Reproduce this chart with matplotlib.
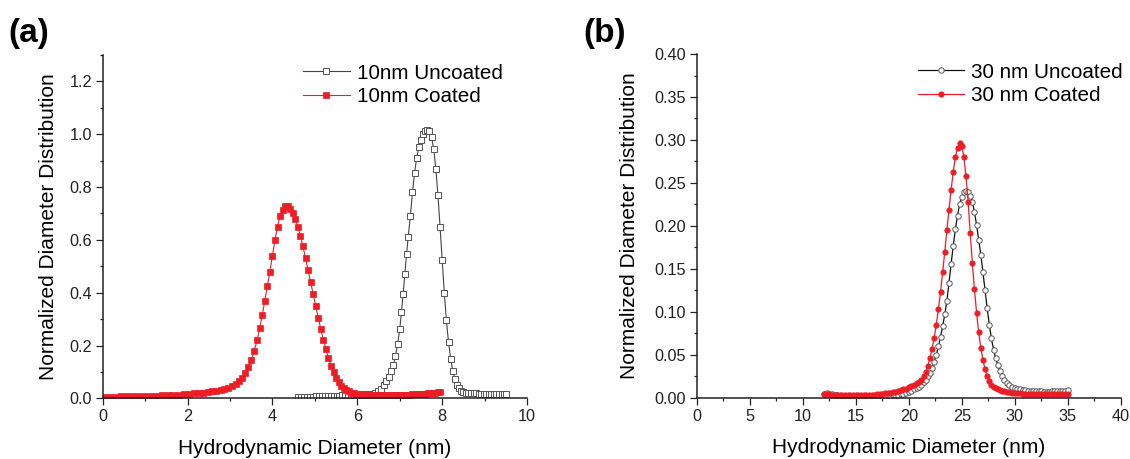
import matplotlib
matplotlib.use("Agg")
import matplotlib.pyplot as plt
from matplotlib.ticker import MultipleLocator, FormatStrFormatter

plt.rcParams["font.family"] = ["Liberation Sans", "DejaVu Sans"]

# panel (a): 10 nm particles
coated10_x = [
    0.00, 0.14, 0.28, 0.42, 0.56, 0.70, 0.84, 0.98, 1.12, 1.26,
    1.40, 1.53, 1.66, 1.79, 1.91, 2.03, 2.15, 2.26, 2.37, 2.48,
    2.58, 2.68, 2.78, 2.87, 2.96, 3.05, 3.13, 3.21, 3.29, 3.36,
    3.43, 3.50, 3.57, 3.64, 3.70, 3.76, 3.82, 3.88, 3.94, 4.00,
    4.06, 4.12, 4.18, 4.24, 4.30, 4.36, 4.42, 4.48, 4.54, 4.60,
    4.66, 4.72, 4.78, 4.84, 4.90, 4.96, 5.02, 5.08, 5.14, 5.20,
    5.26, 5.32, 5.38, 5.44, 5.50, 5.56, 5.62, 5.68, 5.74, 5.80,
    5.86, 5.92, 5.98, 6.04, 6.10, 6.16, 6.22, 6.28, 6.34, 6.40,
    6.46, 6.52, 6.58, 6.64, 6.70, 6.76, 6.82, 6.88, 6.94, 7.00,
    7.06, 7.12, 7.18, 7.24, 7.30, 7.36, 7.42, 7.48, 7.54, 7.60,
    7.66, 7.72, 7.78, 7.84, 7.90, 7.95,
]
coated10_y = [
    0.006, 0.006, 0.006, 0.007, 0.007, 0.007, 0.008, 0.008, 0.009, 0.010,
    0.011, 0.012, 0.013, 0.014, 0.016, 0.017, 0.019, 0.020, 0.022, 0.024,
    0.026, 0.029, 0.032, 0.036, 0.040, 0.046, 0.054, 0.064, 0.078, 0.096,
    0.117, 0.145, 0.180, 0.220, 0.265, 0.315, 0.370, 0.425, 0.480, 0.540,
    0.600, 0.650, 0.690, 0.715, 0.727, 0.727, 0.718, 0.700, 0.678, 0.650,
    0.615, 0.575, 0.530, 0.485, 0.440, 0.395, 0.350, 0.305, 0.262, 0.222,
    0.186, 0.153, 0.124, 0.099, 0.078, 0.061, 0.048, 0.038, 0.031, 0.026,
    0.022, 0.019, 0.017, 0.016, 0.015, 0.014, 0.014, 0.013, 0.013, 0.013,
    0.012, 0.012, 0.012, 0.012, 0.012, 0.012, 0.012, 0.012, 0.012, 0.013,
    0.013, 0.013, 0.014, 0.014, 0.015, 0.015, 0.016, 0.017, 0.017, 0.018,
    0.019, 0.020, 0.021, 0.022, 0.024, 0.025,
]
uncoated10_x = [
    4.60, 4.67, 4.74, 4.81, 4.88, 4.95, 5.02, 5.09, 5.16, 5.23,
    5.30, 5.37, 5.44, 5.51, 5.58, 5.65, 5.72, 5.79, 5.86, 5.93,
    6.00, 6.07, 6.14, 6.21, 6.28, 6.35, 6.42, 6.49, 6.56, 6.62,
    6.68, 6.74, 6.80, 6.85, 6.90, 6.95, 7.00, 7.04, 7.08, 7.12,
    7.16, 7.20, 7.25, 7.30, 7.35, 7.40, 7.45, 7.50, 7.55, 7.60,
    7.65, 7.70, 7.75, 7.80, 7.85, 7.90, 7.95, 8.00, 8.05, 8.10,
    8.15, 8.20, 8.25, 8.30, 8.35, 8.40, 8.45, 8.50, 8.56, 8.62,
    8.68, 8.74, 8.80, 8.86, 8.92, 8.98, 9.04, 9.10, 9.16, 9.22,
    9.28, 9.34, 9.40, 9.46, 9.51,
]
uncoated10_y = [
    0.004, 0.004, 0.005, 0.005, 0.006, 0.006, 0.007, 0.007, 0.008, 0.008,
    0.009, 0.009, 0.010, 0.010, 0.010, 0.011, 0.011, 0.011, 0.012, 0.012,
    0.013, 0.013, 0.014, 0.015, 0.016, 0.018, 0.022, 0.028, 0.037, 0.050,
    0.064, 0.082, 0.102, 0.128, 0.160, 0.205, 0.262, 0.326, 0.395, 0.470,
    0.545, 0.612, 0.690, 0.780, 0.855, 0.910, 0.950, 0.980, 1.000, 1.012,
    1.016, 1.012, 0.990, 0.945, 0.870, 0.770, 0.650, 0.525, 0.400, 0.295,
    0.212, 0.150, 0.105, 0.074, 0.052, 0.038, 0.029, 0.024, 0.021, 0.020,
    0.019, 0.019, 0.019, 0.018, 0.018, 0.018, 0.017, 0.017, 0.016, 0.016,
    0.015, 0.015, 0.015, 0.015, 0.016,
]

# panel (b): 30 nm particles
coated30_x = [
    12.00, 12.25, 12.50, 12.75, 13.00, 13.25, 13.50, 13.75, 14.00, 14.25,
    14.50, 14.75, 15.00, 15.25, 15.50, 15.75, 16.00, 16.25, 16.50, 16.75,
    17.00, 17.25, 17.50, 17.75, 18.00, 18.25, 18.50, 18.75, 19.00, 19.25,
    19.50, 19.75, 20.00, 20.25, 20.50, 20.75,
    21.00, 21.20, 21.40, 21.60, 21.80,
    22.00, 22.20, 22.40, 22.60, 22.80, 23.00, 23.20, 23.40, 23.60, 23.80,
    24.00, 24.20, 24.40, 24.60, 24.80, 25.00, 25.20, 25.40, 25.60, 25.80,
    26.00, 26.20, 26.40, 26.60, 26.80, 27.00, 27.20, 27.40, 27.60, 27.80,
    28.00, 28.20, 28.40, 28.60, 28.80, 29.00, 29.25, 29.50, 29.75, 30.00,
    30.25, 30.50, 30.75, 31.00, 31.25, 31.50, 31.75, 32.00, 32.25, 32.50,
    32.75, 33.00, 33.25, 33.50, 33.75, 34.00, 34.25, 34.50, 34.75, 35.00,
]
coated30_y = [
    0.0040, 0.0040, 0.0038, 0.0036, 0.0034, 0.0033, 0.0032, 0.0031, 0.0030, 0.0030,
    0.0030, 0.0030, 0.0030, 0.0030, 0.0030, 0.0031, 0.0032, 0.0033, 0.0035, 0.0037,
    0.0040, 0.0043, 0.0046, 0.0050, 0.0054, 0.0059, 0.0065, 0.0072, 0.0080, 0.0088,
    0.0097, 0.0107, 0.0120, 0.0133, 0.0148, 0.0166,
    0.018, 0.021, 0.025, 0.030, 0.037,
    0.046, 0.057, 0.070, 0.085, 0.103, 0.123, 0.146, 0.170, 0.195, 0.219,
    0.242, 0.263, 0.280, 0.291, 0.296, 0.293, 0.280, 0.258, 0.228, 0.192,
    0.157, 0.126, 0.099, 0.076, 0.058, 0.044, 0.033, 0.025, 0.019, 0.015,
    0.0125, 0.0110, 0.0097, 0.0088, 0.0080, 0.0074, 0.0068, 0.0063, 0.0059, 0.0056,
    0.0053, 0.0050, 0.0048, 0.0046, 0.0045, 0.0044, 0.0043, 0.0042, 0.0041, 0.0040,
    0.0040, 0.0040, 0.0040, 0.0040, 0.0040, 0.0040, 0.0040, 0.0040, 0.0040, 0.0042,
]
uncoated30_x = coated30_x
uncoated30_y = [
    0.0040, 0.0050, 0.0048, 0.0040, 0.0032, 0.0026, 0.0022, 0.0019, 0.0017, 0.0016,
    0.0015, 0.0014, 0.0014, 0.0014, 0.0014, 0.0014, 0.0014, 0.0014, 0.0015, 0.0015,
    0.0016, 0.0017, 0.0018, 0.0019, 0.0021, 0.0023, 0.0026, 0.0030, 0.0035, 0.0041,
    0.0048, 0.0057, 0.0068, 0.0081, 0.0096, 0.0113,
    0.013, 0.015, 0.018, 0.021, 0.025,
    0.029, 0.035, 0.042, 0.050, 0.060, 0.071, 0.083, 0.097, 0.113, 0.134,
    0.156, 0.177, 0.196, 0.212, 0.225, 0.234, 0.239, 0.241, 0.240, 0.235,
    0.228, 0.216, 0.201, 0.184, 0.166, 0.146, 0.125, 0.104, 0.085, 0.069,
    0.056, 0.046, 0.038, 0.031, 0.025, 0.021, 0.017, 0.0145, 0.0128, 0.0115,
    0.0105, 0.0097, 0.0091, 0.0086, 0.0082, 0.0079, 0.0077, 0.0075, 0.0074, 0.0073,
    0.0072, 0.0072, 0.0072, 0.0073, 0.0074, 0.0075, 0.0077, 0.0079, 0.0082, 0.0086,
]

RED = "#ee1c25"
GREY = "#555555"


def style_axes(ax, xmax, xmajor, xminor, ymax, ymajor, yminor, yfmt, ypad):
    ax.set_xlim(0, xmax)
    ax.set_ylim(0, ymax)
    ax.xaxis.set_major_locator(MultipleLocator(xmajor))
    ax.xaxis.set_minor_locator(MultipleLocator(xminor))
    ax.yaxis.set_major_locator(MultipleLocator(ymajor))
    ax.yaxis.set_minor_locator(MultipleLocator(yminor))
    ax.yaxis.set_major_formatter(FormatStrFormatter(yfmt))
    for side in ("top", "right"):
        ax.spines[side].set_visible(False)
    for side in ("left", "bottom"):
        ax.spines[side].set_linewidth(1.1)
        ax.spines[side].set_color("#222222")
    ax.tick_params(which="major", direction="out", length=4.8, width=0.9,
                   labelsize=11.7, pad=3, colors="#222222")
    ax.tick_params(which="minor", direction="out", length=2.4, width=0.9,
                   colors="#222222")
    ax.set_xlabel("Hydrodynamic Diameter (nm)", fontsize=15, labelpad=10.5)
    ax.set_ylabel("Normalized Diameter Distribution", fontsize=15, labelpad=ypad)


fig = plt.figure(figsize=(11.3, 4.59), dpi=100)
ax_a = fig.add_axes([0.0909, 0.1322, 0.3755, 0.7479])
ax_b = fig.add_axes([0.6166, 0.1335, 0.3752, 0.7488])

legend_kw = dict(loc="upper left", frameon=False, fontsize=14.9,
                 handlelength=2.25, handletextpad=0.34, labelspacing=0.2,
                 borderpad=0, borderaxespad=0)

ax_a.plot(uncoated10_x, uncoated10_y, color="#444444", lw=0.8, marker="s",
          ms=3.7, mfc="white", mec=GREY, mew=0.7, label="10nm Uncoated")
ax_a.plot(coated10_x, coated10_y, color=RED, lw=0.8, marker="s",
          ms=3.8, mfc=RED, mec=RED, mew=0.5, label="10nm Coated")
style_axes(ax_a, 10, 2, 1, 1.3, 0.2, 0.1, "%.1f", 8)
ax_a.legend(bbox_to_anchor=(0.472, 0.975), **legend_kw)

ax_b.plot(uncoated30_x, uncoated30_y, color="#111111", lw=0.9, marker="o",
          ms=3.9, mfc="white", mec=GREY, mew=0.7, label="30 nm Uncoated")
ax_b.plot(coated30_x, coated30_y, color=RED, lw=0.9, marker="o",
          ms=3.9, mfc=RED, mec=RED, mew=0.5, label="30 nm Coated")
style_axes(ax_b, 40, 5, 2.5, 0.40, 0.05, 0.025, "%.2f", 11)
ax_b.legend(bbox_to_anchor=(0.521, 0.975), **legend_kw)

fig.text(0.007, 0.926, "(a)", fontsize=24, fontweight="bold", va="center")
fig.text(0.516, 0.926, "(b)", fontsize=24, fontweight="bold", va="center")

fig.savefig("out.png", dpi=100)
